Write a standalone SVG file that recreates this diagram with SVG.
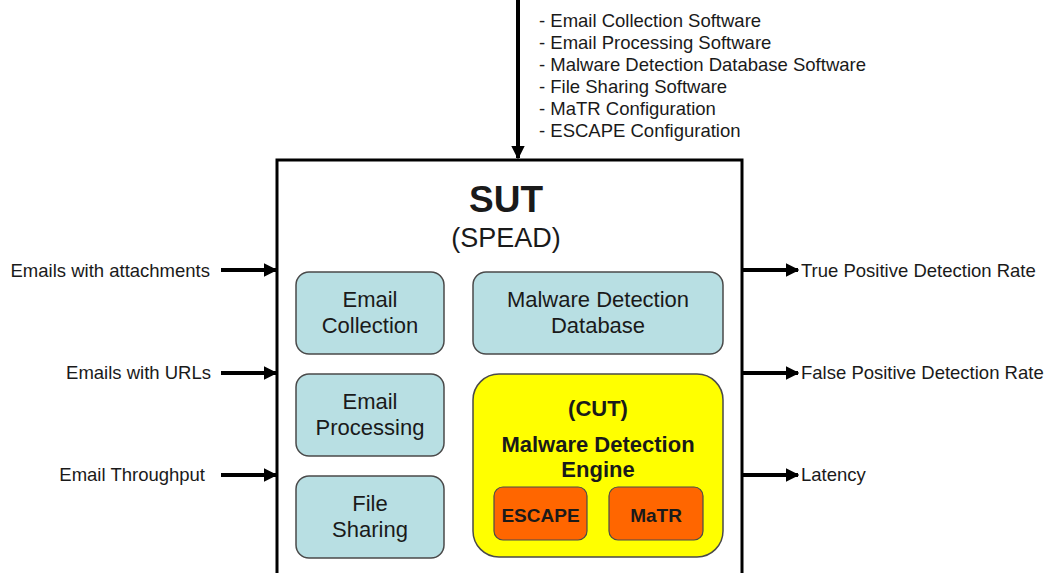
<svg xmlns="http://www.w3.org/2000/svg" width="1045" height="573" viewBox="0 0 1045 573">
<style>
text{font-family:"Liberation Sans",Arial,sans-serif;fill:#1a1a1a}
.lbl{font-size:18.5px}
.blue{fill:#b8dfe3;stroke:#4a4a4a;stroke-width:1.5}
.bt{font-size:22px;text-anchor:middle}
.bold{font-weight:bold;text-anchor:middle}
.conn{stroke:#000;stroke-width:4;fill:none}
</style>
<defs>
<marker id="ah" viewBox="0 0 10 10" refX="9" refY="5" markerWidth="3.4" markerHeight="3.4" orient="auto" markerUnits="strokeWidth">
<path d="M0,0 L10,5 L0,10 Z" fill="#000"/>
</marker>
</defs>
<rect width="1045" height="573" fill="#fff"/>
<g id="sut">
<rect x="277" y="160" width="465" height="420" fill="#fff" stroke="#000" stroke-width="3"/>
<text x="506" y="212" class="bold" style="font-size:37px">SUT</text>
<text x="506" y="247" style="font-size:27px;text-anchor:middle">(SPEAD)</text>
</g>
<g id="email-collection">
<rect x="296" y="272" width="148" height="82" rx="13" class="blue"/>
<text x="370" y="307" class="bt">Email</text>
<text x="370" y="333" class="bt">Collection</text>
</g>
<g id="email-processing">
<rect x="296" y="374" width="148" height="82" rx="13" class="blue"/>
<text x="370" y="409" class="bt">Email</text>
<text x="370" y="435" class="bt">Processing</text>
</g>
<g id="file-sharing">
<rect x="296" y="476" width="148" height="82" rx="13" class="blue"/>
<text x="370" y="511" class="bt">File</text>
<text x="370" y="537" class="bt">Sharing</text>
</g>
<g id="mdd">
<rect x="473" y="272" width="250" height="82" rx="13" class="blue"/>
<text x="598" y="307" class="bt">Malware Detection</text>
<text x="598" y="333" class="bt">Database</text>
</g>
<g id="cut">
<rect x="473" y="374" width="250" height="183" rx="26" fill="#ffff00" stroke="#4a4a4a" stroke-width="1.5"/>
<text x="598" y="416" class="bold" style="font-size:22px">(CUT)</text>
<text x="598" y="452" class="bold" style="font-size:22px">Malware Detection</text>
<text x="598" y="477" class="bold" style="font-size:22px">Engine</text>
</g>
<g id="escape">
<rect x="494" y="487" width="93" height="53" rx="9" fill="#ff6600" stroke="#4a4a4a" stroke-width="1.2"/>
<text x="540.5" y="522" class="bold" style="font-size:19px">ESCAPE</text>
</g>
<g id="matr">
<rect x="609" y="487" width="94" height="53" rx="9" fill="#ff6600" stroke="#4a4a4a" stroke-width="1.2"/>
<text x="656" y="522" class="bold" style="font-size:19px">MaTR</text>
</g>
<g id="connectors">
<line x1="518" y1="0" x2="518" y2="158" class="conn" marker-end="url(#ah)"/>
<line x1="221" y1="270" x2="276" y2="270" class="conn" marker-end="url(#ah)"/>
<line x1="221" y1="373" x2="276" y2="373" class="conn" marker-end="url(#ah)"/>
<line x1="221" y1="475" x2="276" y2="475" class="conn" marker-end="url(#ah)"/>
<line x1="743" y1="270" x2="798" y2="270" class="conn" marker-end="url(#ah)"/>
<line x1="743" y1="373" x2="798" y2="373" class="conn" marker-end="url(#ah)"/>
<line x1="743" y1="475" x2="798" y2="475" class="conn" marker-end="url(#ah)"/>
</g>
<g id="inputs">
<text x="210" y="277" class="lbl" text-anchor="end">Emails with attachments</text>
<text x="211" y="379" class="lbl" text-anchor="end">Emails with URLs</text>
<text x="205" y="481" class="lbl" text-anchor="end">Email Throughput</text>
</g>
<g id="outputs">
<text x="801" y="277" class="lbl">True Positive Detection Rate</text>
<text x="801" y="379" class="lbl">False Positive Detection Rate</text>
<text x="801" y="481" class="lbl">Latency</text>
</g>
<g id="config">
<text x="539" y="27" class="lbl">- Email Collection Software</text>
<text x="539" y="49" class="lbl">- Email Processing Software</text>
<text x="539" y="71" class="lbl">- Malware Detection Database Software</text>
<text x="539" y="93" class="lbl">- File Sharing Software</text>
<text x="539" y="115" class="lbl">- MaTR Configuration</text>
<text x="539" y="137" class="lbl">- ESCAPE Configuration</text>
</g>
</svg>
